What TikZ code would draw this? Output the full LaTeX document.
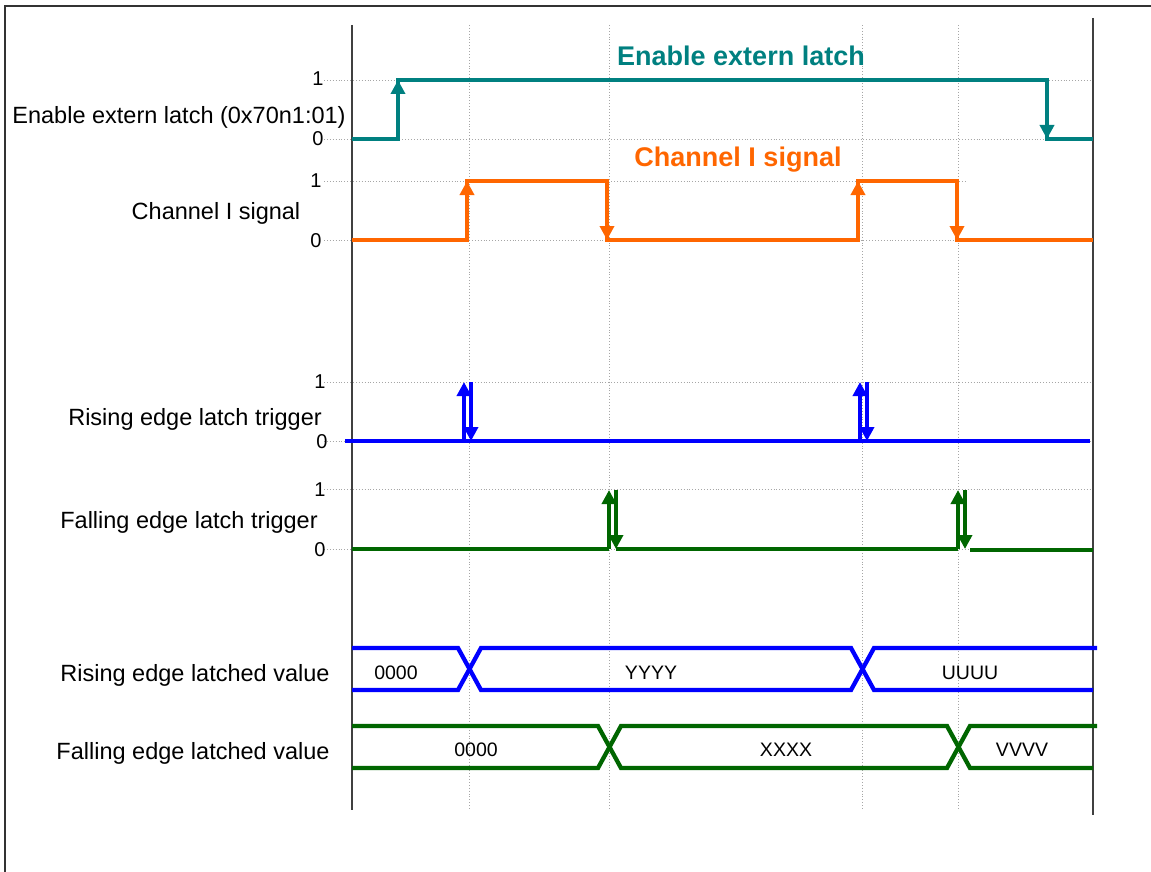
\documentclass[tikz,border=0pt]{standalone}
\usepackage{fontspec}
\setmainfont{Liberation Sans}
\usetikzlibrary{arrows.meta}
\definecolor{latchteal}{RGB}{0,128,128}
\definecolor{chorange}{RGB}{255,102,0}
\definecolor{trigblue}{RGB}{0,0,255}
\definecolor{triggreen}{RGB}{0,102,0}
\tikzset{
  axisline/.style={draw=black!75,line width=1.5pt},
  gridline/.style={draw=black!35,dotted,line width=0.9pt},
  sig/.style={line width=4.3pt},
  tipped/.style={-{Triangle[width=14pt,length=14pt]}},
  rowlabel/.style={font=\fontsize{23.5}{28}\selectfont,inner sep=0pt},
  ticklabel/.style={font=\fontsize{20}{24}\selectfont,inner sep=0pt},
  buslabel/.style={font=\fontsize{19.5}{23}\selectfont,inner sep=0pt},
  sigtitle/.style={font=\bfseries\fontsize{27}{32}\selectfont,inner sep=0pt}
}
\begin{document}
\begin{tikzpicture}[x=1pt,y=-1pt]
\useasboundingbox (0,0) rectangle (1151,872);
% frame
\draw[black!80,line width=1.5pt] (5,890) -- (5,6) -- (1170,6);
% vertical grid at the edges
\foreach \x in {469,609,862,958}
  \draw[gridline] (\x,25) -- (\x,810);
% horizontal levels
\foreach \y in {80,240,382,441,489,549}
  \draw[gridline] (324,\y) -- (1093,\y);
\draw[gridline] (324,139) -- (1060,139);
\draw[gridline] (324,181) -- (965,181);
% axes
\draw[axisline] (352,25) -- (352,810);
\draw[axisline] (1093,18) -- (1093,815);
% tick labels
\node[ticklabel] (e1) at (318,79) {1};
\node[ticklabel] (e0) at (318,139) {0};
\node[ticklabel] (c1) at (316,181) {1};
\node[ticklabel] (c0) at (316,241) {0};
\node[ticklabel] (r1) at (320,382) {1};
\node[ticklabel] (r0) at (322,442) {0};
\node[ticklabel] (f1) at (320,490) {1};
\node[ticklabel] (f0) at (320,550) {0};
% row labels
\node[rowlabel] (enlab) at (179,117) {Enable extern latch (0x70n1:01)};
\node[rowlabel] (chlab) at (216,213) {Channel I signal};
\node[rowlabel] (rtlab) at (195,419) {Rising edge latch trigger};
\node[rowlabel] (ftlab) at (189,522) {Falling edge latch trigger};
\node[rowlabel] (rvlab) at (195,675) {Rising edge latched value};
\node[rowlabel] (fvlab) at (193,753) {Falling edge latched value};
% titles
\node[sigtitle,text=latchteal] (entitle) at (741,56) {Enable extern latch};
\node[sigtitle,text=chorange] (chtitle) at (738,160) {Channel I signal};
% enable extern latch
\draw[sig,latchteal] (352,139) -- (398,139) -- (398,80) -- (1047,80) -- (1047,139) -- (1093,139);
\draw[sig,latchteal,tipped] (398,120) -- (398,80);
\draw[sig,latchteal,tipped] (1047,100) -- (1047,139);
% channel I signal
\draw[sig,chorange] (352,240) -- (467,240) -- (467,181) -- (607,181) -- (607,240)
  -- (858,240) -- (858,181) -- (957,181) -- (957,240) -- (1093,240);
\foreach \x in {467,858}
  \draw[sig,chorange,tipped] (\x,220) -- (\x,181);
\foreach \x in {607,957}
  \draw[sig,chorange,tipped] (\x,200) -- (\x,240);
% rising edge latch trigger
\draw[sig,trigblue] (345,441) -- (1090,441);
\foreach \x in {464,860} {
  \draw[sig,trigblue,tipped] (\x,441) -- (\x,382);
  \draw[sig,trigblue,tipped] (\x+7,382) -- (\x+7,441);
}
% falling edge latch trigger
\draw[sig,triggreen] (352,549) -- (609,549);
\draw[sig,triggreen] (616,549) -- (958,549);
\draw[sig,triggreen] (970,550) -- (1093,550);
\foreach \x in {609,958} {
  \draw[sig,triggreen,tipped] (\x,549) -- (\x,490);
  \draw[sig,triggreen,tipped] (\x+7,490) -- (\x+7,549);
}
% rising edge latched value
\draw[sig,trigblue] (352,648) -- (458,648) -- (481,690) -- (851,690) -- (874,648) -- (1097,648);
\draw[sig,trigblue] (352,690) -- (458,690) -- (481,648) -- (851,648) -- (874,690) -- (1093,690);
\node[buslabel] (rv0) at (396,673) {0000};
\node[buslabel] (rv1) at (651,673) {YYYY};
\node[buslabel] (rv2) at (970,673) {UUUU};
% falling edge latched value
\draw[sig,triggreen] (352,726) -- (598,726) -- (621,768) -- (947,768) -- (970,726) -- (1097,726);
\draw[sig,triggreen] (352,768) -- (598,768) -- (621,726) -- (947,726) -- (970,768) -- (1093,768);
\node[buslabel] (fv0) at (476,750) {0000};
\node[buslabel] (fv1) at (786,750) {XXXX};
\node[buslabel] (fv2) at (1022,750) {VVVV};
\end{tikzpicture}
\end{document}
